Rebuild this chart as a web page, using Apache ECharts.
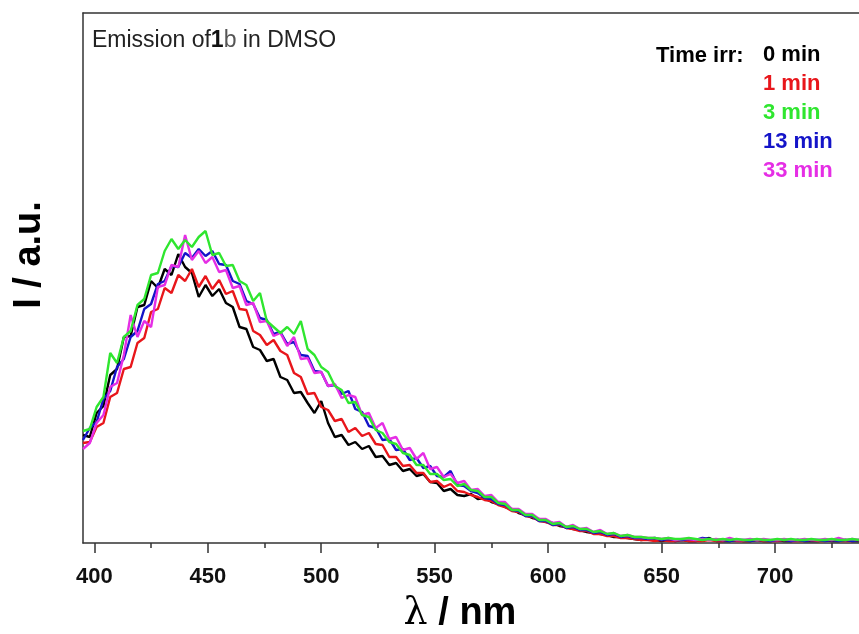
<!DOCTYPE html>
<html>
<head>
<meta charset="utf-8">
<script src="https://cdn.jsdelivr.net/npm/echarts@6/dist/echarts.min.js"></script>
<style>html,body{margin:0;padding:0;background:#fff;}#c{width:859px;height:634px;}</style>
</head>
<body>
<div id="c"></div>
<script>
// wavelengths (nm)
const wl = [395,398,401,404,407,410,413,416,419,422,425,428,431,434,437,440,443,446,449,452,455,458,461,464,467,470,473,476,479,482,485,488,491,494,497,500,503,506,509,512,515,518,521,524,527,530,533,536,539,542,545,548,551,554,557,560,563,566,569,572,575,578,581,584,587,590,593,596,599,602,605,608,611,614,617,620,623,626,629,632,635,638,641,644,647,650,653,656,659,662,665,668,671,674,677,680,683,686,689,692,695,698,701,704,707,710,713,716,719,722,725,728,731,734,737];

// emission intensity (a.u.)
const min0 = [108,106,130,137,168,174,206,207,236,238,262,255,274,268,289,276,270,246,258,247,254,240,236,216,214,196,193,182,184,166,163,150,151,140,130,142,120,106,108,98,101,94,97,86,87,78,80,72,74,67,69,61,60,52,54,48,47,49,44,45,41,39,36,34,30,28,25,24,21,20,17,16,14,13,11,10,9,8,6,6,5,4,3,4,3,2,3,2,3,2,2,3,5,2,2,2,3,2,2,3,2,2,3,2,2,3,2,2,2,3,2,2,3,2,2];
const min1 = [100,101,116,120,146,150,174,176,200,205,231,234,255,250,268,262,274,256,267,254,263,249,252,234,233,212,208,198,203,192,188,170,166,149,150,136,133,122,124,111,115,107,110,99,98,86,86,77,78,70,70,61,62,56,59,52,51,48,46,43,42,38,36,32,31,27,26,22,21,18,18,15,14,12,12,9,9,7,7,5,5,4,3,3,2,3,2,2,3,2,2,2,3,2,2,3,2,2,2,3,2,2,2,3,2,2,2,3,2,2,3,2,2,2,3];
const min3 = [112,114,136,146,190,180,206,212,238,244,268,270,292,304,294,303,296,306,312,288,290,277,278,262,258,242,250,222,216,210,216,209,222,194,188,176,171,157,153,140,141,128,126,113,110,101,99,90,88,78,78,69,69,63,64,57,59,53,52,46,46,40,39,33,33,28,28,23,23,19,20,16,17,14,14,11,12,9,10,7,8,6,6,5,5,4,5,4,4,5,4,3,4,3,4,3,4,3,3,4,3,3,4,3,4,3,3,4,3,3,4,3,3,4,3];
const min13 = [103,115,121,144,152,176,184,206,212,234,239,259,262,277,276,290,285,294,287,292,279,278,262,259,242,239,225,223,209,211,199,201,188,187,172,171,157,158,149,152,134,131,117,115,103,104,93,94,83,85,75,77,67,66,72,58,57,52,50,45,44,39,38,33,32,27,27,22,22,18,19,15,16,13,13,10,11,8,9,6,7,5,5,4,5,3,4,3,3,4,3,5,4,3,3,2,3,3,2,3,3,2,3,3,2,3,2,3,3,2,3,2,3,2,3];
const min33 = [94,100,120,128,156,160,188,228,206,222,216,256,258,278,276,308,283,292,280,286,271,273,255,257,238,240,221,222,207,210,197,206,184,185,170,171,157,159,145,148,146,128,130,115,120,104,106,93,95,84,90,74,76,66,69,60,62,53,54,47,48,41,41,34,34,29,29,24,24,20,21,16,18,14,15,11,13,9,10,7,8,6,6,5,5,4,5,3,4,4,3,4,3,4,3,5,3,3,4,3,4,3,3,4,3,3,4,3,3,4,3,5,3,4,3];

const seriesNames = ['0 min','1 min','3 min','13 min','33 min'];
const xMajorTicks = [400,450,500,550,600,650,700];
const xMinorTicks = [425,475,525,575,625,675,725];

const colors = {'0 min':'#000000','1 min':'#e8161b','3 min':'#2fe62f','13 min':'#1414c8','33 min':'#e52ee5'};
const valuesByName = {'0 min':min0,'1 min':min1,'3 min':min3,'13 min':min13,'33 min':min33};
const drawOrder = ['0 min','1 min','13 min','33 min','3 min'];

const FONT = "'Liberation Sans', Arial, sans-serif";
const AX = '#333';

const chart = echarts.init(document.getElementById('c'), null, {renderer:'canvas'});

const series = drawOrder.map(n => ({
  name: n,
  type: 'line',
  xAxisIndex: 0,
  yAxisIndex: 0,
  showSymbol: false,
  symbol: 'none',
  lineStyle: {color: colors[n], width: 2.4},
  itemStyle: {color: colors[n]},
  data: wl.map((w, i) => [w, valuesByName[n][i]])
}));

const XMIN = 395, XMAX = 737;

chart.setOption({
  animation: false,
  backgroundColor: '#fff',
  grid: {left: 83, right: 0, top: 13, bottom: 91, show: false},
  xAxis: [{
    type: 'value', min: XMIN, max: XMAX, position: 'bottom',
    axisLine: {show: true, lineStyle: {color: AX, width: 1.5}},
    axisTick: {show: true, customValues: xMajorTicks, length: 10, inside: false, lineStyle: {color: AX, width: 1.5}},
    axisLabel: {show: true, customValues: xMajorTicks, margin: 23, color: '#111', fontSize: 22, fontWeight: 'bold', fontFamily: FONT},
    splitLine: {show: false}
  }, {
    type: 'value', min: XMIN, max: XMAX, position: 'bottom', gridIndex: 0,
    axisLine: {show: false},
    axisTick: {show: true, customValues: xMinorTicks, length: 5, inside: false, lineStyle: {color: AX, width: 1.5}},
    axisLabel: {show: false},
    splitLine: {show: false}
  }, {
    type: 'value', min: XMIN, max: XMAX, position: 'top', gridIndex: 0,
    axisLine: {show: true, onZero: false, lineStyle: {color: AX, width: 1.5}},
    axisTick: {show: false}, axisLabel: {show: false}, splitLine: {show: false}
  }],
  yAxis: {
    type: 'value', min: 0, max: 530,
    axisLine: {show: true, lineStyle: {color: AX, width: 1.5}},
    axisTick: {show: false}, axisLabel: {show: false}, splitLine: {show: false}
  },
  legend: {
    orient: 'vertical', left: 758, top: 44, padding: 0,
    icon: 'none', itemWidth: 0, itemHeight: 22, itemGap: 7, selectedMode: false,
    textStyle: {fontSize: 22, fontWeight: 'bold', fontFamily: FONT, lineHeight: 22},
    data: seriesNames.map(n => ({name: n, textStyle: {color: colors[n]}}))
  },
  graphic: [
    {type: 'text', left: 92, top: 29, style: {
      text: '{a|Emission of}{b|1}{c|b}{a| in DMSO}',
      rich: {
        a: {fontSize: 23, fontFamily: FONT, fill: '#222'},
        b: {fontSize: 23, fontFamily: FONT, fontWeight: 'bold', fill: '#111'},
        c: {fontSize: 23, fontFamily: FONT, fill: '#555'}
      }
    }},
    {type: 'text', x: 656, y: 56, style: {text: 'Time irr:', fontSize: 22, fontWeight: 'bold', fontFamily: FONT, fill: '#000', verticalAlign: 'middle', align: 'left'}},
    {type: 'text', x: 30, y: 255, rotation: Math.PI / 2, style: {text: 'I / a.u.', fontSize: 38, fontWeight: 'bold', fontFamily: FONT, fill: '#000', align: 'center', verticalAlign: 'middle'}},
    {type: 'text', x: 460, y: 614, style: {
      text: '{l|λ}{n| / nm}', align: 'center', verticalAlign: 'middle',
      rich: {
        l: {fontSize: 38, fontFamily: "'DejaVu Serif', 'Liberation Serif', serif", fill: '#000'},
        n: {fontSize: 38, fontWeight: 'bold', fontFamily: FONT, fill: '#000'}
      }
    }}
  ],
  series: series
});
</script>
</body>
</html>
